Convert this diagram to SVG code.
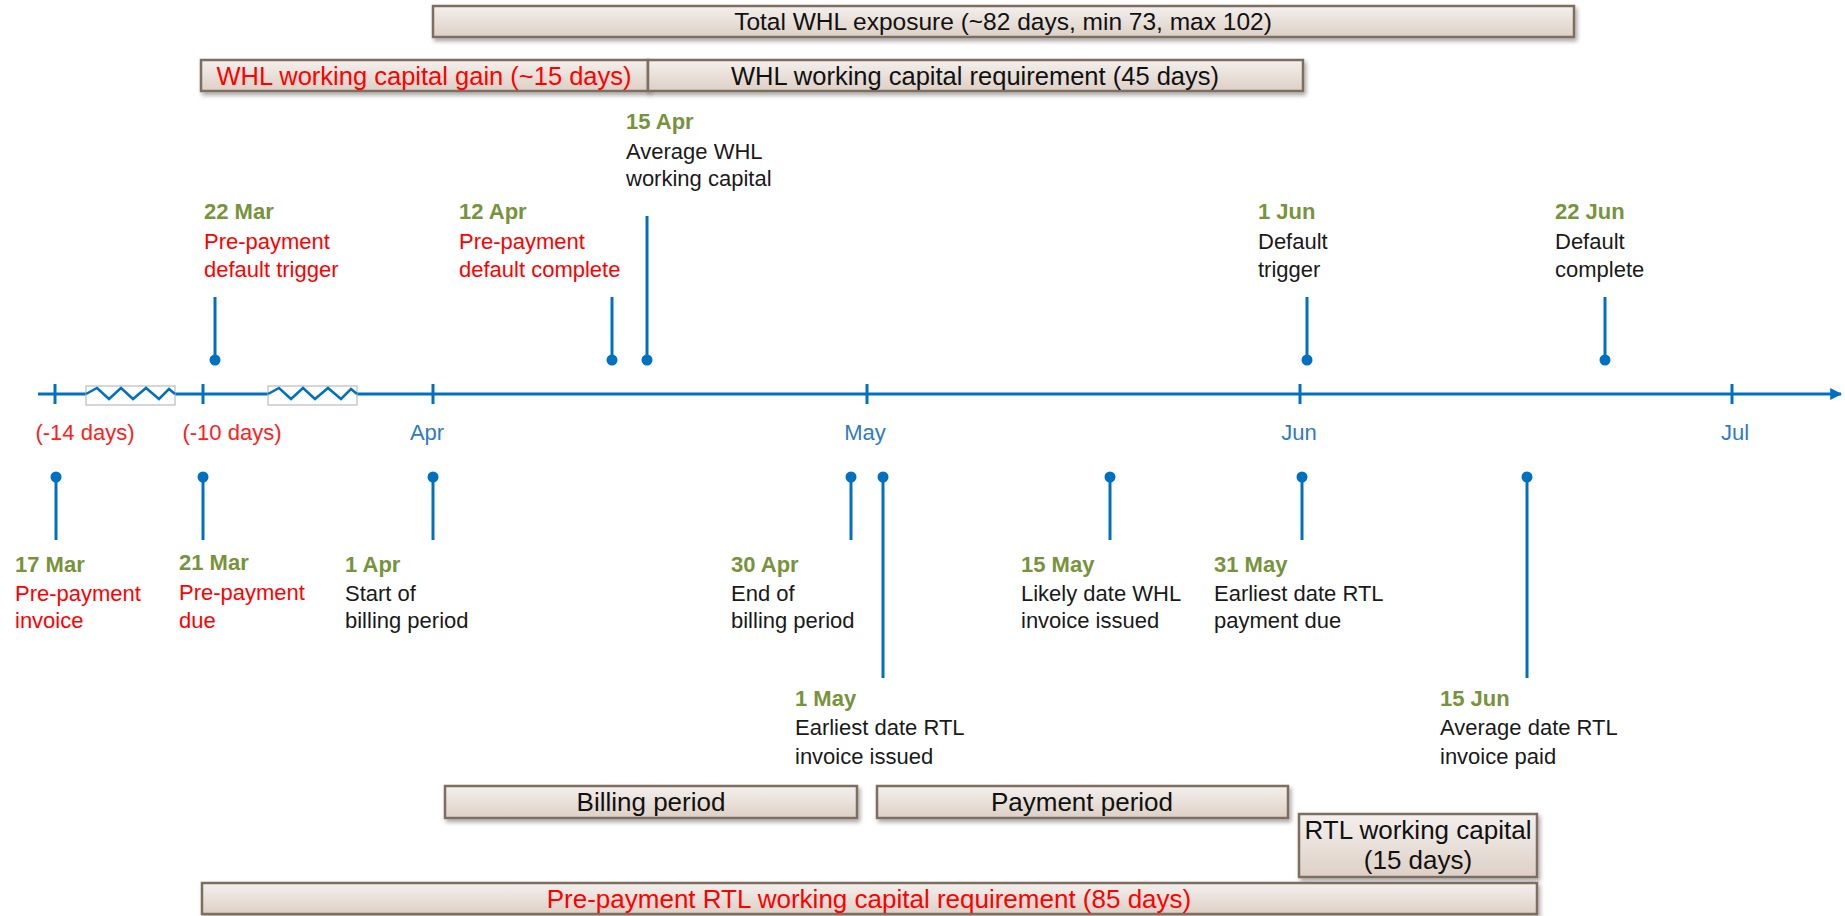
<svg xmlns="http://www.w3.org/2000/svg" width="1845" height="916" viewBox="0 0 1845 916">
<defs>
<linearGradient id="boxg" x1="0" y1="0" x2="0" y2="1">
<stop offset="0" stop-color="#F4F0ED"/>
<stop offset="1" stop-color="#DDD0C6"/>
</linearGradient>
<filter id="sh" x="-5%" y="-30%" width="110%" height="170%">
<feDropShadow dx="2" dy="3" stdDeviation="2" flood-color="#000" flood-opacity="0.35"/>
</filter>
<marker id="arr" viewBox="0 0 10 10" refX="9" refY="5" markerWidth="4" markerHeight="4" orient="auto" markerUnits="strokeWidth">
<path d="M0,0 L10,5 L0,10 z" fill="#0070C0"/>
</marker>
<style>
.box{fill:url(#boxg);stroke:#7E6E60;stroke-width:2.5;filter:url(#sh)}
.bt{font-family:"Liberation Sans",Arial,sans-serif;font-size:24.5px;text-anchor:middle;fill:#111}
.bt2{font-size:25.5px}
.bt3{font-size:26px}
.red{fill:#FF0000}
.lbl{font-family:"Liberation Sans",Arial,sans-serif;font-size:22px;fill:#1a1a1a}
.dt{font-weight:bold;fill:#77933C}
.rl{fill:#FF0000}
.ax{font-family:"Liberation Sans",Arial,sans-serif;font-size:22px;text-anchor:middle;fill:#2E7BC4}
.axr{fill:#FF2020}
.stem{stroke:#0070C0;stroke-width:3;fill:none}
.dot{fill:#0070C0}
.tick{stroke:#0070C0;stroke-width:3}
.brk{fill:#fff;stroke:#BBBBBB;stroke-width:1.2}
.zz{fill:none;stroke:#0070C0;stroke-width:2.5}
</style>
</defs>
<rect width="1845" height="916" fill="#fff"/>

<!-- axis -->
<g id="axis">
<line x1="38" y1="394" x2="1841" y2="394" stroke="#0070C0" stroke-width="3" marker-end="url(#arr)"/>
<line class="tick" x1="55" y1="384" x2="55" y2="404"/>
<line class="tick" x1="203" y1="384" x2="203" y2="404"/>
<line class="tick" x1="433" y1="384" x2="433" y2="404"/>
<line class="tick" x1="867" y1="384" x2="867" y2="404"/>
<line class="tick" x1="1300" y1="384" x2="1300" y2="404"/>
<line class="tick" x1="1732" y1="384" x2="1732" y2="404"/>
<rect class="brk" x="86" y="386" width="89" height="19"/>
<polyline class="zz" points="86,394 97,388 109,399 121,388 133,399 146,388 159,399 169,389 175,394"/>
<rect class="brk" x="268" y="386" width="89" height="19"/>
<polyline class="zz" points="268,394 279,388 291,399 303,388 315,399 328,388 341,399 351,389 357,394"/>
<text class="ax axr" x="85" y="440">(-14 days)</text>
<text class="ax axr" x="232" y="440">(-10 days)</text>
<text class="ax" x="427" y="440">Apr</text>
<text class="ax" x="865" y="440">May</text>
<text class="ax" x="1299" y="440">Jun</text>
<text class="ax" x="1735" y="440">Jul</text>
</g>

<!-- connectors: pins -->
<g id="connectors">
<line class="stem" x1="215" y1="297" x2="215" y2="360"/><circle class="dot" cx="215" cy="360" r="5.5"/>
<line class="stem" x1="612" y1="297" x2="612" y2="360"/><circle class="dot" cx="612" cy="360" r="5.5"/>
<line class="stem" x1="647" y1="216" x2="647" y2="360"/><circle class="dot" cx="647" cy="360" r="5.5"/>
<line class="stem" x1="1307" y1="297" x2="1307" y2="360"/><circle class="dot" cx="1307" cy="360" r="5.5"/>
<line class="stem" x1="1605" y1="297" x2="1605" y2="360"/><circle class="dot" cx="1605" cy="360" r="5.5"/>

<line class="stem" x1="56" y1="477" x2="56" y2="540"/><circle class="dot" cx="56" cy="477" r="5.5"/>
<line class="stem" x1="203" y1="477" x2="203" y2="540"/><circle class="dot" cx="203" cy="477" r="5.5"/>
<line class="stem" x1="433" y1="477" x2="433" y2="540"/><circle class="dot" cx="433" cy="477" r="5.5"/>
<line class="stem" x1="851" y1="477" x2="851" y2="540"/><circle class="dot" cx="851" cy="477" r="5.5"/>
<line class="stem" x1="883" y1="477" x2="883" y2="678"/><circle class="dot" cx="883" cy="477" r="5.5"/>
<line class="stem" x1="1110" y1="477" x2="1110" y2="540"/><circle class="dot" cx="1110" cy="477" r="5.5"/>
<line class="stem" x1="1302" y1="477" x2="1302" y2="540"/><circle class="dot" cx="1302" cy="477" r="5.5"/>
<line class="stem" x1="1527" y1="477" x2="1527" y2="678"/><circle class="dot" cx="1527" cy="477" r="5.5"/>
</g>

<!-- upper events -->
<g id="ev-22mar">
<text class="lbl" x="204"><tspan class="dt" x="204" y="219">22 Mar</tspan><tspan class="rl" x="204" y="249">Pre-payment</tspan><tspan class="rl" x="204" y="277">default trigger</tspan></text>
</g>
<g id="ev-12apr">
<text class="lbl" x="459"><tspan class="dt" x="459" y="219">12 Apr</tspan><tspan class="rl" x="459" y="249">Pre-payment</tspan><tspan class="rl" x="459" y="277">default complete</tspan></text>
</g>
<g id="ev-15apr">
<text class="lbl" x="626"><tspan class="dt" x="626" y="129">15 Apr</tspan><tspan x="626" y="159">Average WHL</tspan><tspan x="626" y="186">working capital</tspan></text>
</g>
<g id="ev-1jun">
<text class="lbl" x="1258"><tspan class="dt" x="1258" y="219">1 Jun</tspan><tspan x="1258" y="249">Default</tspan><tspan x="1258" y="277">trigger</tspan></text>
</g>
<g id="ev-22jun">
<text class="lbl" x="1555"><tspan class="dt" x="1555" y="219">22 Jun</tspan><tspan x="1555" y="249">Default</tspan><tspan x="1555" y="277">complete</tspan></text>
</g>

<!-- lower events -->
<g id="ev-17mar">
<text class="lbl" x="15"><tspan class="dt" x="15" y="572">17 Mar</tspan><tspan class="rl" x="15" y="601">Pre-payment</tspan><tspan class="rl" x="15" y="628">invoice</tspan></text>
</g>
<g id="ev-21mar">
<text class="lbl" x="179"><tspan class="dt" x="179" y="570">21 Mar</tspan><tspan class="rl" x="179" y="600">Pre-payment</tspan><tspan class="rl" x="179" y="628">due</tspan></text>
</g>
<g id="ev-1apr">
<text class="lbl" x="345"><tspan class="dt" x="345" y="572">1 Apr</tspan><tspan x="345" y="601">Start of</tspan><tspan x="345" y="628">billing period</tspan></text>
</g>
<g id="ev-30apr">
<text class="lbl" x="731"><tspan class="dt" x="731" y="572">30 Apr</tspan><tspan x="731" y="601">End of</tspan><tspan x="731" y="628">billing period</tspan></text>
</g>
<g id="ev-1may">
<text class="lbl" x="795"><tspan class="dt" x="795" y="706">1 May</tspan><tspan x="795" y="735">Earliest date RTL</tspan><tspan x="795" y="764">invoice issued</tspan></text>
</g>
<g id="ev-15may">
<text class="lbl" x="1021"><tspan class="dt" x="1021" y="572">15 May</tspan><tspan x="1021" y="601">Likely date WHL</tspan><tspan x="1021" y="628">invoice issued</tspan></text>
</g>
<g id="ev-31may">
<text class="lbl" x="1214"><tspan class="dt" x="1214" y="572">31 May</tspan><tspan x="1214" y="601">Earliest date RTL</tspan><tspan x="1214" y="628">payment due</tspan></text>
</g>
<g id="ev-15jun">
<text class="lbl" x="1440"><tspan class="dt" x="1440" y="706">15 Jun</tspan><tspan x="1440" y="735">Average date RTL</tspan><tspan x="1440" y="764">invoice paid</tspan></text>
</g>

<!-- bars -->
<g id="bar-total">
<rect class="box" x="433" y="6" width="1141" height="31"/>
<text class="bt" x="1003" y="30">Total WHL exposure (~82 days, min 73, max 102)</text>
</g>
<g id="bar-gain">
<rect class="box" x="201" y="60" width="447" height="31"/>
<text class="bt bt2 red" x="424" y="84.5">WHL working capital gain (~15 days)</text>
</g>
<g id="bar-req">
<rect class="box" x="648" y="60" width="655" height="31"/>
<text class="bt bt2" x="975" y="84.5">WHL working capital requirement (45 days)</text>
</g>
<g id="bar-billing">
<rect class="box" x="445" y="786" width="412" height="32"/>
<text class="bt bt3" x="651" y="811">Billing period</text>
</g>
<g id="bar-payment">
<rect class="box" x="877" y="786" width="411" height="32"/>
<text class="bt bt3" x="1082" y="811">Payment period</text>
</g>
<g id="bar-rtl">
<rect class="box" x="1299" y="814" width="238" height="63"/>
<text class="bt bt3" x="1418" y="839">RTL working capital</text>
<text class="bt bt3" x="1418" y="869">(15 days)</text>
</g>
<g id="bar-prepay">
<rect class="box" x="202" y="883" width="1335" height="31"/>
<text class="bt bt3 red" x="869" y="907.5">Pre-payment RTL working capital requirement (85 days)</text>
</g>
</svg>
